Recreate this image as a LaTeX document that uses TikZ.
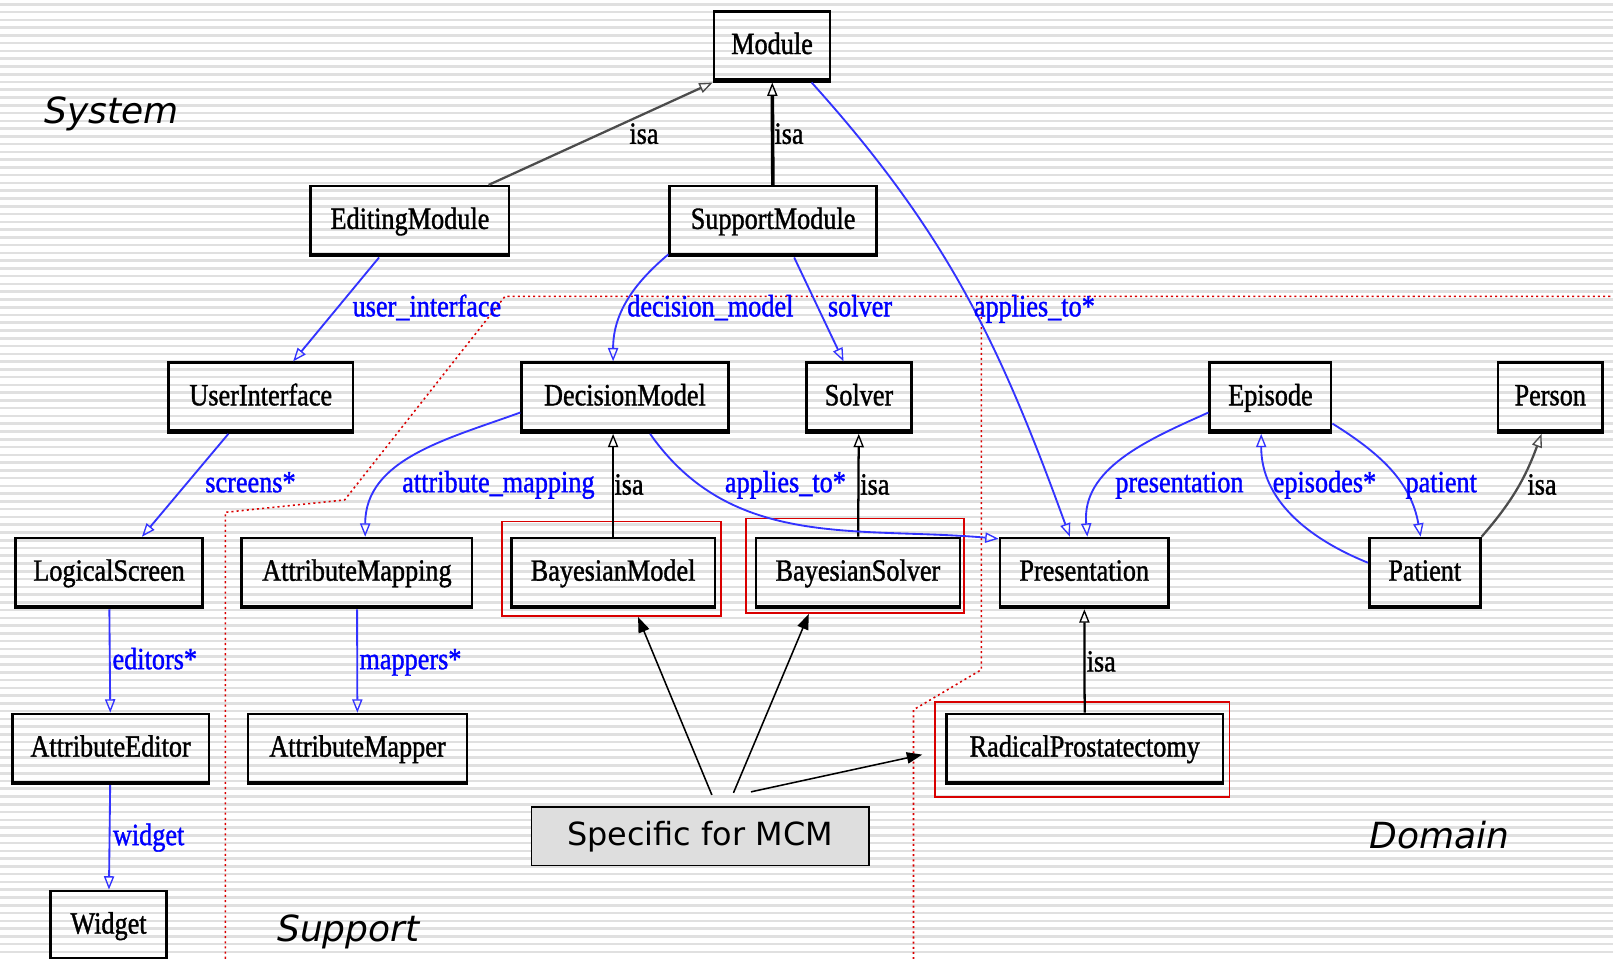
\documentclass[tikz,border=0pt]{standalone}
\usepackage{fontspec}
\usetikzlibrary{arrows.meta}
\newfontfamily\clsfont[FakeStretch=0.85,FakeBold=1.2]{Liberation Serif}
\newfontfamily\areafont{DejaVu Sans}

\begin{document}
\begin{tikzpicture}[x=1pt,y=-1pt,
    cls/.style={draw, line width=2.5pt, minimum height=68pt, inner xsep=2pt, inner ysep=0pt,
                text height=21pt, text depth=6pt, font=\clsfont\fontsize{30}{30}\selectfont},
    hilite/.style={draw=red!85!black, line width=1.5pt, minimum height=92pt},
    tag/.style={text=blue, text height=21pt, text depth=6pt, inner sep=0pt,
                font=\clsfont\fontsize{30}{30}\selectfont},
    relation/.style={->, blue!80, line width=1.8pt,
                >={Triangle[open,length=13pt,width=10pt,line width=1.3pt]}},
    isa/.style={->, line width=2.2pt,
                >={Triangle[open,length=13pt,width=10pt,line width=1.3pt]}},
    pointer/.style={->, line width=1.5pt, >={Triangle[length=15pt,width=11pt]}},
    frontier/.style={red!85!black, line width=1.5pt, dash pattern=on 2pt off 3pt},
    area/.style={anchor=base west, font=\areafont\itshape\fontsize{35}{35}\selectfont},
    stripe/.style={black!12, line width=2.5pt}]
  % rows
  \def\ya{45}
  \def\yb{215}
  \def\yc{386.5}
  \def\yd{557}
  \def\ye{728}
  \def\yf{900}
  % label rows
  \def\la{130}
  \def\lb{300}
  \def\lc{471}
  \def\ld{643}
  \def\le{814}

  \useasboundingbox (0,0) rectangle (1568,932);
  \fill[white] (0,0) rectangle (1568,932);
  \foreach \y in {4.2,11.75,...,932}
    \draw[stripe] (0,\y) -- (1568,\y);

  % area borders
  \draw[frontier] (219,932) -- (219,498) -- (335,486) -- (491,288) -- (1568,288);
  \draw[frontier] (954,288) -- (954,651) -- (888,690) -- (888,932);
  \node[area] (sys) at (40,119.6) {System};
  \node[area] (sup) at (266,915.4) {Support};
  \node[area] (dom) at (1328,824.7) {Domain};

  % classes
  \node[cls, minimum width=113pt] (module)       at (750.5,\ya) {Module};
  \node[cls, minimum width=193pt] (editing)      at (398.5,\yb) {EditingModule};
  \node[cls, minimum width=201pt] (support)      at (751.5,\yb) {SupportModule};
  \node[cls, minimum width=179pt] (userif)       at (253.5,\yc) {UserInterface};
  \node[cls, minimum width=201pt] (decision)     at (607.5,\yc) {DecisionModel};
  \node[cls, minimum width=102pt] (solver)       at (835,\yc)   {Solver};
  \node[cls, minimum width=118pt] (episode)      at (1235,\yc)  {Episode};
  \node[cls, minimum width=102pt] (person)       at (1507,\yc)  {Person};
  \node[cls, minimum width=182pt] (logical)      at (106,\yd)   {LogicalScreen};
  \node[cls, minimum width=224pt] (attmapping)   at (347,\yd)   {AttributeMapping};
  \node[cls, minimum width=198pt] (bayesmodel)   at (596,\yd)   {BayesianModel};
  \node[cls, minimum width=198pt] (bayessolver)  at (834,\yd)   {BayesianSolver};
  \node[cls, minimum width=164pt] (presentation) at (1054,\yd)  {Presentation};
  \node[cls, minimum width=108pt] (patient)      at (1385,\yd)  {Patient};
  \node[cls, minimum width=191pt] (atteditor)    at (107.5,\ye) {AttributeEditor};
  \node[cls, minimum width=213pt] (attmapper)    at (347.5,\ye) {AttributeMapper};
  \node[cls, minimum width=269pt] (radical)      at (1054.5,\ye) {RadicalProstatectomy};
  \node[cls, minimum width=113pt] (widget)       at (105.5,\yf) {Widget};
  \foreach \n in {module,editing,support,userif,decision,solver,episode,person,logical,
                  attmapping,bayesmodel,bayessolver,presentation,patient,atteditor,
                  attmapper,radical,widget}
    \draw[line width=4.5pt] ([yshift=2.25pt]\n.south west) -- ([yshift=2.25pt]\n.south east);

  % MCM specific
  \node[hilite, minimum width=213pt] (hlmodel)   at (594.5,553) {};
  \node[hilite, minimum width=212pt] (hlsolver)  at (831,550)   {};
  \node[hilite, minimum width=286pt] (hlradical) at (1052,728.5) {};
  \node[draw, fill=black!13, line width=1.5pt, minimum width=328pt, minimum height=57pt,
        font=\areafont\fontsize{31}{31}\selectfont] (mcm) at (680.5,813) {Specific for MCM};
  \draw[pointer] ([xshift=11.5pt,yshift=11pt]mcm.north) -- ([xshift=133pt]hlmodel.south west);
  \draw[pointer] ([xshift=32.5pt,yshift=13pt]mcm.north) -- ([xshift=62pt]hlsolver.south west);
  \draw[pointer, shorten >=12pt] ([xshift=49.5pt,yshift=14pt]mcm.north) -- ([yshift=-2.5pt]hlradical.west);

  % isa
  \draw[isa, black!70] ([xshift=76.5pt]editing.north) -- (module.south west);
  \draw[isa, line width=3.5pt] (support) -- (module);
  \draw[isa, line width=1.5pt] (bayesmodel.north) -- (bayesmodel.north |- decision.south);
  \draw[isa] (bayessolver) -- (solver);
  \draw[isa] (radical) -- (presentation);
  \draw[isa, black!70] (patient.north east) to[out=49,in=250] ([xshift=-8.5pt]person.south);
  \node (isa1) at (626,\la)    {\clsfont\fontsize{30}{30}\selectfont isa};
  \node (isa2) at (767,\la)    {\clsfont\fontsize{30}{30}\selectfont isa};
  \node (isa3) at (611.5,\lc)  {\clsfont\fontsize{30}{30}\selectfont isa};
  \node (isa4) at (850.5,\lc)  {\clsfont\fontsize{30}{30}\selectfont isa};
  \node (isa5) at (1499,\lc)   {\clsfont\fontsize{30}{30}\selectfont isa};
  \node (isa6) at (1070.5,\ld) {\clsfont\fontsize{30}{30}\selectfont isa};

  % relations
  \draw[relation] ([xshift=-30pt]editing.south) -- ([xshift=31.5pt]userif.north);
  \draw[relation] ([yshift=3pt]support.south west) to[out=220,in=90] ([xshift=-11.5pt]decision.north);
  \draw[relation] ([xshift=20.5pt]support.south) -- ([xshift=-15pt]solver.north);
  \draw[relation] ([xshift=38.5pt]module.south) to[out=-48,in=110] ([xshift=-14pt]presentation.north);
  \draw[relation] ([xshift=-31.5pt]userif.south) -- ([xshift=32pt]logical.north);
  \draw[relation] ([yshift=-14.5pt]decision.west) to[out=200,in=90] ([xshift=8pt]attmapping.north);
  \draw[relation] ([xshift=24.5pt]decision.south) to[out=-55,in=175] ([yshift=-2pt]presentation.north west);
  \draw[relation] ([yshift=-14.5pt]episode.west) to[out=204,in=95] ([xshift=3pt]presentation.north);
  \draw[relation] ([yshift=10pt]patient.west) to[out=158,in=270] ([xshift=-9pt]episode.south);
  \draw[relation] ([yshift=10pt]episode.south east) to[out=-32,in=100] ([xshift=-4pt]patient.north);
  \draw[relation] (logical) -- (atteditor);
  \draw[relation] (attmapping) -- (attmapper);
  \draw[relation] (atteditor) -- (widget);
  \node[tag] (t-ui)   at (415,\lb)    {user\_interface};
  \node[tag] (t-dm)   at (690.5,\lb)  {decision\_model};
  \node[tag] (t-sv)   at (836,\lb)    {solver};
  \node[tag] (t-ap1)  at (1005.5,\lb) {applies\_to*};
  \node[tag] (t-sc)   at (243.5,\lc)  {screens*};
  \node[tag] (t-am)   at (484.5,\lc)  {attribute\_mapping};
  \node[tag] (t-ap2)  at (763.5,\lc)  {applies\_to*};
  \node[tag] (t-pr)   at (1146.5,\lc) {presentation};
  \node[tag] (t-ep)   at (1287.5,\lc) {episodes*};
  \node[tag] (t-pa)   at (1401,\lc)   {patient};
  \node[tag] (t-ed)   at (150.5,\ld)  {editors*};
  \node[tag] (t-mp)   at (399,\ld)    {mappers*};
  \node[tag] (t-wg)   at (144.5,\le)  {widget};
\end{tikzpicture}
\end{document}
